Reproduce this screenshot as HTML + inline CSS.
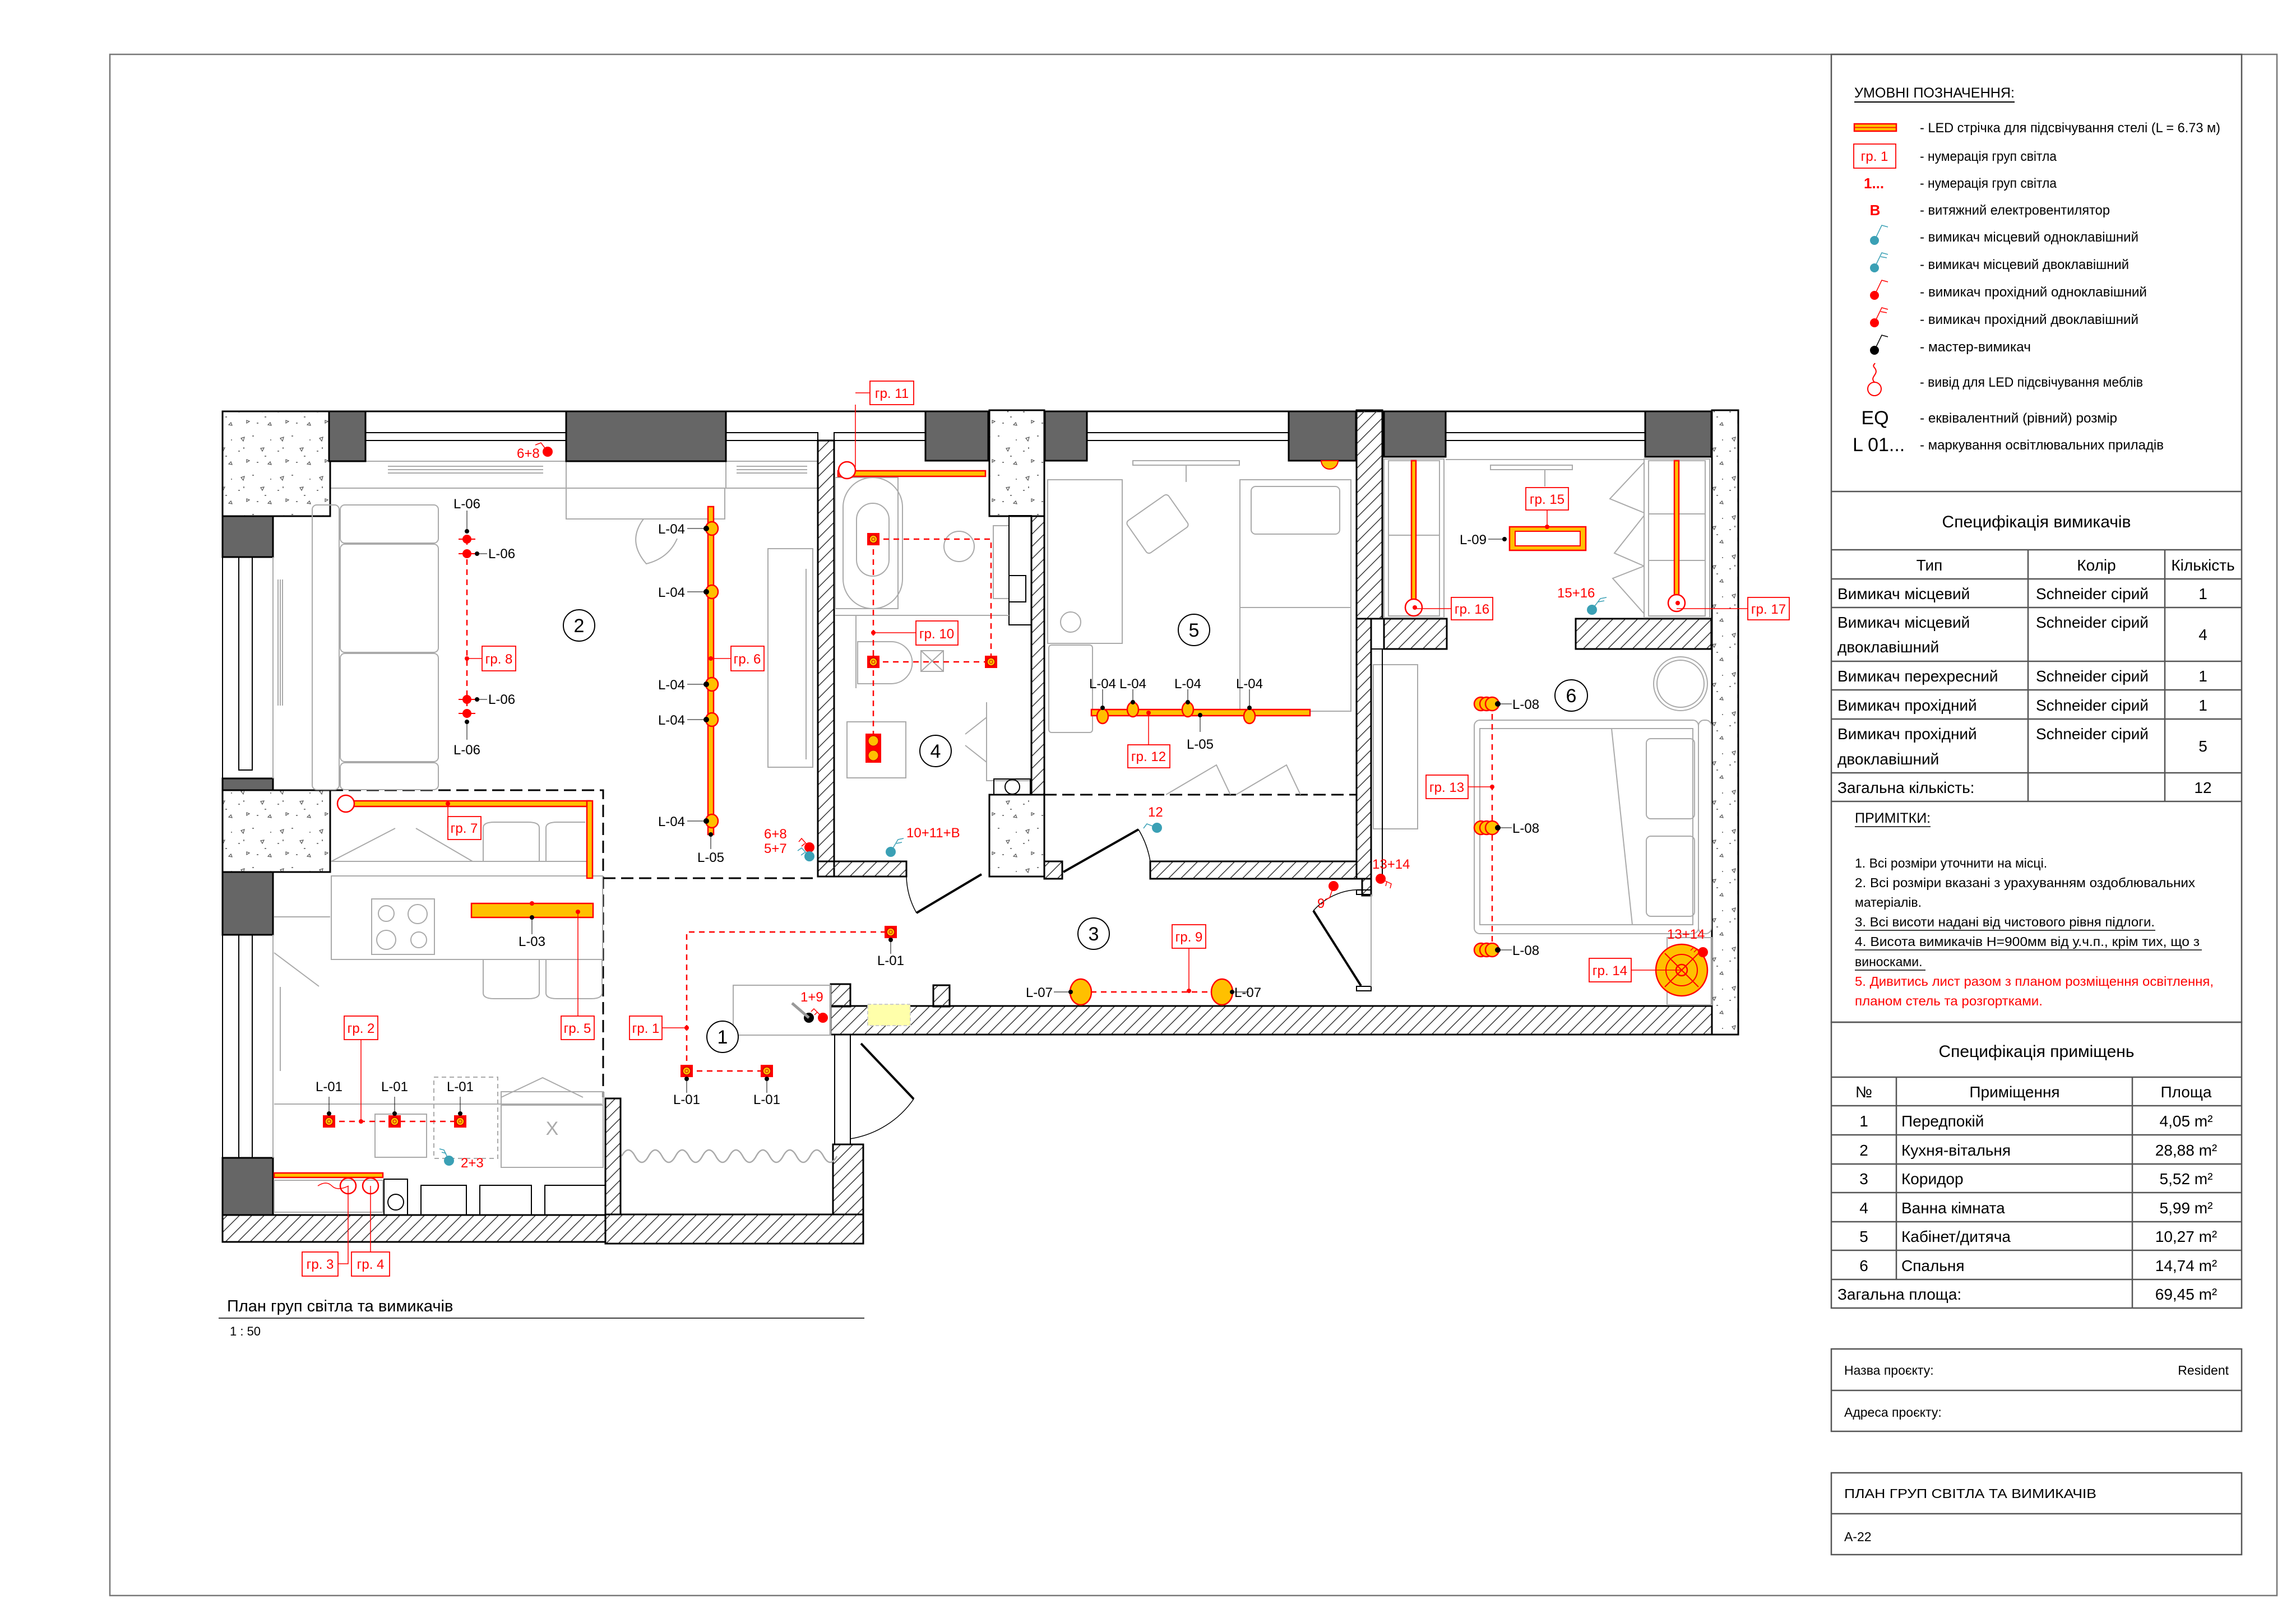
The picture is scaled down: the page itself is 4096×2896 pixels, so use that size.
<!DOCTYPE html>
<html><head><meta charset="utf-8"><style>
html,body{margin:0;padding:0;background:#fff}
svg{display:block}
text{font-family:"Liberation Sans","DejaVu Sans",sans-serif}
.k{fill:#000}.r{fill:#f00}
.w{fill:url(#hatch);stroke:#000;stroke-width:3}
.c{fill:url(#conc);stroke:#000;stroke-width:3}
.d{fill:#666;stroke:#000;stroke-width:3}
.f{fill:none;stroke:#aaa;stroke-width:2}
.ln{fill:none;stroke:#000;stroke-width:2}
.rd{fill:none;stroke:#f00;stroke-width:2.5;stroke-dasharray:10 8}
.rl{fill:none;stroke:#f00;stroke-width:1.5}
.bx{fill:#fff;stroke:#f00;stroke-width:1.8}
.st{fill:#ffc000;stroke:#f00;stroke-width:2.5}
.kd{fill:none;stroke:#000;stroke-width:3;stroke-dasharray:22 10}
</style></head><body>
<svg width="4096" height="2896" viewBox="0 0 4096 2896" xmlns="http://www.w3.org/2000/svg">
<defs>
<pattern id="hatch" patternUnits="userSpaceOnUse" width="22" height="22"><path d="M0 22 L22 0 M-5 5 L5 -5 M17 27 L27 17" stroke="#333" stroke-width="1.5"/></pattern>
<pattern id="conc" patternUnits="userSpaceOnUse" width="70" height="70"><rect width="70" height="70" fill="#fff"/><path d="M10 12 l6 -2 l-2 7z M45 30 l6 -1 l-3 6z M20 50 l5 2 l-5 3z M58 58 l4 -4 l2 5z" fill="none" stroke="#555" stroke-width="1.2"/><path d="M30 8h3 M5 35h3 M38 55h3 M62 15h2 M52 44h3 M15 28v3" stroke="#555" stroke-width="1.5"/></pattern>
<g id="l01"><rect x="-11" y="-11" width="22" height="22" fill="#f00"/><circle r="7" fill="#ffc000" stroke="#c00" stroke-width="1.5"/><circle r="3" fill="none" stroke="#c00" stroke-width="1"/></g>
<g id="l04"><ellipse cx="6" rx="11" ry="12" fill="#ffc000" stroke="#f00" stroke-width="2.5"/><circle cx="-4" r="5" fill="#000"/></g>
<g id="l08"><circle cx="-18" r="12" fill="#ffc000" stroke="#f00" stroke-width="2.5"/><circle cx="-8" r="12" fill="#ffc000" stroke="#f00" stroke-width="2.5"/><circle cx="2" r="12" fill="#ffc000" stroke="#f00" stroke-width="2.5"/><circle cx="12" r="5" fill="#000"/></g>
</defs>
<rect width="4096" height="2896" fill="#fff"/>
<!-- frame -->
<rect x="196" y="97" width="3866" height="2750" fill="none" stroke="#777" stroke-width="2.5"/>

<!-- ============ RIGHT PANEL ============ -->
<g stroke="#555" stroke-width="2.5" fill="none">
<rect x="3267" y="97" width="732" height="1727"/>
<line x1="3267" y1="877" x2="3999" y2="877"/>
<line x1="3267" y1="981" x2="3999" y2="981"/>
<line x1="3267" y1="1033" x2="3999" y2="1033"/>
<line x1="3267" y1="1084" x2="3999" y2="1084"/>
<line x1="3267" y1="1180" x2="3999" y2="1180"/>
<line x1="3267" y1="1231" x2="3999" y2="1231"/>
<line x1="3267" y1="1283" x2="3999" y2="1283"/>
<line x1="3267" y1="1379" x2="3999" y2="1379"/>
<line x1="3267" y1="1430" x2="3999" y2="1430"/>
<line x1="3618" y1="981" x2="3618" y2="1430"/>
<line x1="3862" y1="981" x2="3862" y2="1430"/>
<rect x="3267" y="1824" width="732" height="510"/>
<line x1="3267" y1="1922" x2="3999" y2="1922"/>
<line x1="3267" y1="1973" x2="3999" y2="1973"/>
<line x1="3267" y1="2025" x2="3999" y2="2025"/>
<line x1="3267" y1="2077" x2="3999" y2="2077"/>
<line x1="3267" y1="2128" x2="3999" y2="2128"/>
<line x1="3267" y1="2180" x2="3999" y2="2180"/>
<line x1="3267" y1="2231" x2="3999" y2="2231"/>
<line x1="3267" y1="2283" x2="3999" y2="2283"/>
<line x1="3383" y1="1922" x2="3383" y2="2283"/>
<line x1="3804" y1="1922" x2="3804" y2="2334"/>
<rect x="3267" y="2407" width="732" height="147"/>
<line x1="3267" y1="2481" x2="3999" y2="2481"/>
<rect x="3267" y="2628" width="732" height="146"/>
<line x1="3267" y1="2701" x2="3999" y2="2701"/>
</g>
<!-- legend -->
<g font-size="24" fill="#000">
<text x="3308" y="174" font-size="25" textLength="286" lengthAdjust="spacingAndGlyphs">УМОВНІ ПОЗНАЧЕННЯ:</text>
<line x1="3308" y1="182" x2="3594" y2="182" stroke="#000" stroke-width="2"/>
<rect x="3308" y="221" width="75" height="13" fill="#ffc000" stroke="#f00" stroke-width="2.5"/>
<line x1="3308" y1="227.5" x2="3383" y2="227.5" stroke="#f00" stroke-width="1.5"/>
<text x="3425" y="236" textLength="536" lengthAdjust="spacingAndGlyphs">- LED стрічка для підсвічування стелі (L = 6.73 м)</text>
<rect x="3307" y="257" width="75" height="43" fill="none" stroke="#f00" stroke-width="1.8"/>
<text x="3344" y="287" text-anchor="middle" fill="#f00" font-size="24">гр. 1</text>
<text x="3425" y="287" textLength="244" lengthAdjust="spacingAndGlyphs">- нумерація груп світла</text>
<text x="3325" y="336" fill="#f00" font-weight="bold" font-size="26">1...</text>
<text x="3425" y="335" textLength="244" lengthAdjust="spacingAndGlyphs">- нумерація груп світла</text>
<text x="3345" y="384" fill="#f00" font-weight="bold" font-size="26" text-anchor="middle">В</text>
<text x="3425" y="383" textLength="339" lengthAdjust="spacingAndGlyphs">- витяжний електровентилятор</text>
<text x="3425" y="431" textLength="390" lengthAdjust="spacingAndGlyphs">- вимикач місцевий одноклавішний</text>
<text x="3425" y="480" textLength="373" lengthAdjust="spacingAndGlyphs">- вимикач місцевий двоклавішний</text>
<text x="3425" y="529" textLength="405" lengthAdjust="spacingAndGlyphs">- вимикач прохідний одноклавішний</text>
<text x="3425" y="578" textLength="390" lengthAdjust="spacingAndGlyphs">- вимикач прохідний двоклавішний</text>
<text x="3425" y="627" textLength="198" lengthAdjust="spacingAndGlyphs">- мастер-вимикач</text>
<text x="3425" y="690" textLength="398" lengthAdjust="spacingAndGlyphs">- вивід для LED підсвічування меблів</text>
<text x="3345" y="757" text-anchor="middle" font-size="34">EQ</text>
<text x="3425" y="754" textLength="352" lengthAdjust="spacingAndGlyphs">- еквівалентний (рівний) розмір</text>
<text x="3305" y="805" font-size="34">L 01...</text>
<text x="3425" y="802" textLength="435" lengthAdjust="spacingAndGlyphs">- маркування освітлювальних приладів</text>
</g>
<!-- legend switch icons -->
<g stroke-width="1.5" fill="none">
<circle cx="3344" cy="429" r="8" fill="#3aa0b5"/><path d="M3344 429 L3357 402 L3368 405" stroke="#3aa0b5"/>
<circle cx="3344" cy="478" r="8" fill="#3aa0b5"/><path d="M3344 478 L3357 451 L3368 454 M3355 458 L3366 460" stroke="#3aa0b5"/>
<circle cx="3344" cy="527" r="8" fill="#f00"/><path d="M3344 527 L3357 500 L3368 503" stroke="#f00"/>
<circle cx="3344" cy="576" r="8" fill="#f00"/><path d="M3344 576 L3357 549 L3368 552 M3355 556 L3366 558" stroke="#f00"/>
<circle cx="3344" cy="625" r="8" fill="#000"/><path d="M3344 625 L3357 598 L3368 601" stroke="#000"/>
<circle cx="3344" cy="694" r="12" stroke="#f00" stroke-width="2"/><path d="M3344 682 C3334 672 3354 668 3344 656 C3340 652 3344 650 3345 648" stroke="#f00" stroke-width="2"/>
</g>
<!-- switch spec -->
<g font-size="28" fill="#000">
<text x="3633" y="941" text-anchor="middle" font-size="30">Специфікація вимикачів</text>
<text x="3442" y="1018" text-anchor="middle">Тип</text>
<text x="3740" y="1018" text-anchor="middle">Колір</text>
<text x="3930" y="1018" text-anchor="middle">Кількість</text>
<text x="3278" y="1069">Вимикач місцевий</text>
<text x="3632" y="1069">Schneider сірий</text>
<text x="3930" y="1069" text-anchor="middle">1</text>
<text x="3278" y="1120">Вимикач місцевий</text>
<text x="3278" y="1164">двоклавішний</text>
<text x="3632" y="1120">Schneider сірий</text>
<text x="3930" y="1142" text-anchor="middle">4</text>
<text x="3278" y="1216">Вимикач перехресний</text>
<text x="3632" y="1216">Schneider сірий</text>
<text x="3930" y="1216" text-anchor="middle">1</text>
<text x="3278" y="1268">Вимикач прохідний</text>
<text x="3632" y="1268">Schneider сірий</text>
<text x="3930" y="1268" text-anchor="middle">1</text>
<text x="3278" y="1319">Вимикач прохідний</text>
<text x="3278" y="1364">двоклавішний</text>
<text x="3632" y="1319">Schneider сірий</text>
<text x="3930" y="1341" text-anchor="middle">5</text>
<text x="3278" y="1415">Загальна кількість:</text>
<text x="3930" y="1415" text-anchor="middle">12</text>
</g>
<g font-size="23" fill="#000">
<text x="3309" y="1468" font-size="25">ПРИМІТКИ:</text>
<line x1="3309" y1="1475" x2="3444" y2="1475" stroke="#000" stroke-width="1.5"/>
<text x="3309" y="1548">1. Всі розміри уточнити на місці.</text>
<text x="3309" y="1583" textLength="607" lengthAdjust="spacingAndGlyphs">2. Всі розміри вказані з урахуванням оздоблювальних</text>
<text x="3309" y="1618">матеріалів.</text>
<text x="3309" y="1653" textLength="535" lengthAdjust="spacingAndGlyphs">3. Всі висоти надані від чистового рівня підлоги.</text>
<line x1="3309" y1="1660" x2="3845" y2="1660" stroke="#000" stroke-width="1.5"/>
<text x="3309" y="1688" textLength="615" lengthAdjust="spacingAndGlyphs">4. Висота вимикачів Н=900мм від у.ч.п., крім тих, що з</text>
<line x1="3309" y1="1695" x2="3928" y2="1695" stroke="#000" stroke-width="1.5"/>
<text x="3309" y="1724">виносками.</text>
<line x1="3309" y1="1731" x2="3435" y2="1731" stroke="#000" stroke-width="1.5"/>
<text x="3309" y="1759" fill="#f00" textLength="640" lengthAdjust="spacingAndGlyphs">5. Дивитись лист разом з планом розміщення освітлення,</text>
<text x="3309" y="1794" fill="#f00" textLength="335" lengthAdjust="spacingAndGlyphs">планом стель та розгортками.</text>
</g>
<!-- rooms spec -->
<g font-size="28" fill="#000">
<text x="3633" y="1886" text-anchor="middle" font-size="30">Специфікація приміщень</text>
<text x="3325" y="1958" text-anchor="middle">№</text>
<text x="3594" y="1958" text-anchor="middle">Приміщення</text>
<text x="3900" y="1958" text-anchor="middle">Площа</text>
<text x="3325" y="2010" text-anchor="middle">1</text><text x="3392" y="2010">Передпокій</text><text x="3900" y="2010" text-anchor="middle">4,05 m²</text>
<text x="3325" y="2062" text-anchor="middle">2</text><text x="3392" y="2062">Кухня-вітальня</text><text x="3900" y="2062" text-anchor="middle">28,88 m²</text>
<text x="3325" y="2113" text-anchor="middle">3</text><text x="3392" y="2113">Коридор</text><text x="3900" y="2113" text-anchor="middle">5,52 m²</text>
<text x="3325" y="2165" text-anchor="middle">4</text><text x="3392" y="2165">Ванна кімната</text><text x="3900" y="2165" text-anchor="middle">5,99 m²</text>
<text x="3325" y="2216" text-anchor="middle">5</text><text x="3392" y="2216">Кабінет/дитяча</text><text x="3900" y="2216" text-anchor="middle">10,27 m²</text>
<text x="3325" y="2268" text-anchor="middle">6</text><text x="3392" y="2268">Спальня</text><text x="3900" y="2268" text-anchor="middle">14,74 m²</text>
<text x="3278" y="2319">Загальна площа:</text><text x="3900" y="2319" text-anchor="middle">69,45 m²</text>
</g>
<g font-size="23" fill="#000">
<text x="3290" y="2453">Назва проєкту:</text>
<text x="3976" y="2453" text-anchor="end">Resident</text>
<text x="3290" y="2528">Адреса проєкту:</text>
<text x="3290" y="2673" textLength="450" lengthAdjust="spacingAndGlyphs">ПЛАН ГРУП СВІТЛА ТА ВИМИКАЧІВ</text>
<text x="3290" y="2750">А-22</text>
</g>

<!-- ============ PLAN ============ -->
<!-- title -->
<text x="405" y="2340" font-size="29" fill="#000">План груп світла та вимикачів</text>
<line x1="390" y1="2352" x2="1542" y2="2352" stroke="#000" stroke-width="1.5"/>
<text x="410" y="2383" font-size="22" fill="#000">1 : 50</text>

<!-- exterior top line -->
<line x1="397" y1="734" x2="3101" y2="734" stroke="#000" stroke-width="3"/>
<!-- windows top -->
<g class="ln" stroke-width="2">
<rect x="652" y="772" width="358" height="14"/><rect x="1295" y="772" width="164" height="14"/>
<rect x="1488" y="772" width="163" height="14"/><rect x="1939" y="772" width="360" height="14"/>
<rect x="2579" y="772" width="356" height="14"/>
</g>
<g class="f">
<rect x="587" y="823" width="423" height="48"/><rect x="1010" y="823" width="285" height="48"/><rect x="1295" y="823" width="164" height="48"/>
<rect x="1010" y="871" width="283" height="55"/>
<path d="M692 832h277M692 838h277M692 844h277M1314 832h126M1314 838h126M1314 844h126"/>
</g>
<!-- concrete blocks -->
<rect class="c" x="397" y="734" width="192" height="187"/>
<rect class="c" x="397" y="1410" width="192" height="146"/>
<rect class="c" x="1765" y="732" width="98" height="189"/>
<rect class="c" x="1765" y="1418" width="98" height="146"/>
<rect class="c" x="3054" y="732" width="47" height="1114"/>
<!-- dark columns -->
<rect class="d" x="397" y="921" width="90" height="73"/>
<rect class="d" x="397" y="1389" width="90" height="21"/>
<rect class="d" x="397" y="1556" width="90" height="112"/>
<rect class="d" x="397" y="2066" width="90" height="102"/>
<rect class="d" x="587" y="734" width="65" height="89"/>
<rect class="d" x="1010" y="734" width="285" height="89"/>
<rect class="d" x="1651" y="734" width="112" height="88"/>
<rect class="d" x="1864" y="734" width="75" height="88"/>
<rect class="d" x="2299" y="734" width="120" height="88"/>
<rect class="d" x="2469" y="734" width="110" height="81"/>
<rect class="d" x="2935" y="734" width="118" height="81"/>
<!-- left windows -->
<g class="ln" stroke-width="2">
<line x1="397" y1="994" x2="397" y2="1389"/><line x1="397" y1="1668" x2="397" y2="2066"/>
<rect x="426" y="994" width="24" height="380"/><rect x="426" y="1668" width="24" height="398"/>
<line x1="487" y1="994" x2="487" y2="1389" stroke="#aaa"/><line x1="487" y1="1668" x2="487" y2="2066" stroke="#aaa"/>
</g>
<!-- walls hatched -->
<rect class="w" x="1459" y="786" width="29" height="778"/>
<rect class="w" x="1459" y="1537" width="158" height="27"/>
<rect class="w" x="1840" y="921" width="23" height="497"/>
<rect class="w" x="1863" y="1537" width="32" height="31"/>
<rect class="w" x="2052" y="1537" width="368" height="31"/>
<rect class="w" x="2420" y="732" width="46" height="372"/>
<rect class="w" x="2420" y="1104" width="26" height="464"/>
<rect class="w" x="2469" y="1104" width="112" height="54"/>
<rect class="w" x="2811" y="1104" width="242" height="54"/>
<rect class="w" x="1482" y="1795" width="1572" height="51"/>
<rect class="w" x="1482" y="1756" width="35" height="40"/>
<rect class="w" x="1665" y="1758" width="29" height="38"/>
<rect class="w" x="2430" y="1568" width="16" height="30"/>
<rect class="w" x="397" y="2168" width="683" height="48"/>
<rect class="w" x="1080" y="2167" width="460" height="52"/>
<rect class="w" x="1080" y="1960" width="27" height="207"/>
<rect class="w" x="1486" y="2042" width="54" height="125"/>
<!-- door frame lines etc -->
<g class="ln">
<rect x="1489" y="1846" width="28" height="196"/>
<line x1="1536" y1="1862" x2="1630" y2="1961" stroke-width="4"/>
<path d="M1630 1961 A170 170 0 0 1 1517 2032" stroke-width="1.5"/>
<line x1="1635" y1="1629" x2="1751" y2="1560" stroke-width="4"/>
<path d="M1617 1564 A140 140 0 0 0 1635 1629" stroke-width="1.5"/>
<line x1="1897" y1="1556" x2="2031" y2="1480" stroke-width="4"/>
<path d="M2031 1480 A160 160 0 0 1 2052 1537" stroke-width="1.5"/>
<line x1="2343" y1="1625" x2="2428" y2="1759" stroke-width="4"/>
<path d="M2343 1625 A110 110 0 0 1 2435 1588" stroke-width="1.5"/>
<rect x="2420" y="1588" width="26" height="8"/><rect x="2420" y="1760" width="26" height="8"/>
<line x1="2446" y1="1596" x2="2446" y2="1760" stroke="#aaa"/>
<rect x="1396" y="2115" width="0" height="0"/>
</g>
<!-- dashed boundaries -->
<path class="kd" d="M590 1410 H1076 V1958"/>
<path class="kd" d="M1076 1567 H1459"/>
<path class="kd" d="M1863 1418 H2420"/>
<!-- curtain -->
<path d="M1109 2063 q12 -22 24 0 t24 0 t24 0 t24 0 t24 0 t24 0 t24 0 t24 0 t24 0 t24 0 t24 0 t24 0 t24 0 t24 0 t24 0 t24 0" fill="none" stroke="#aaa" stroke-width="2.5"/>

<!-- furniture -->
<g class="f">
<rect x="557" y="901" width="48" height="508" rx="8"/>
<rect x="607" y="901" width="175" height="68" rx="8"/>
<rect x="607" y="971" width="175" height="193" rx="8"/>
<rect x="607" y="1166" width="175" height="193" rx="8"/>
<rect x="607" y="1361" width="175" height="48" rx="8"/>
<path d="M496 1034v225M500 1034v225M504 1034v225"/>
<rect x="1370" y="979" width="80" height="390"/>
<path d="M1438 1015v340"/>
<path d="M1148 926 q-30 40 5 80 q40 -10 55 -45"/>
<!-- kitchen -->
<rect x="591" y="1563" width="484" height="149"/>
<rect x="663" y="1604" width="112" height="99"/>
<circle cx="689" cy="1630" r="14"/><circle cx="745" cy="1631" r="17"/><circle cx="689" cy="1677" r="17"/><circle cx="747" cy="1677" r="14"/>
<path d="M591 1537 L705 1478 M742 1478 L843 1537 M591 1537 H1050"/>
<path d="M862 1537 v-60 q0 -10 20 -10 h60 q20 0 20 10 v60 M974 1537 v-60 q0 -10 20 -10 h50"/>
<path d="M862 1712 v60 q0 10 20 10 h60 q20 0 20 -10 v-60 M974 1712 v60 q0 10 20 10 h60 q20 0 20 -10 v-60"/>
<path d="M489 1636 h100 M489 1700 l80 60 M500 1761 v150 M489 1970 h585"/>
<rect x="669" y="1988" width="92" height="77"/>
<rect x="774" y="1922" width="114" height="145" stroke-dasharray="8 6"/>
<rect x="894" y="1948" width="182" height="135"/>
<path d="M894 1958 L968 1923 L1040 1958 M894 1972 H1076"/>
<text x="985" y="2025" font-size="34" fill="#aaa" stroke="none" text-anchor="middle">X</text>
<rect x="489" y="2106" width="194" height="57"/>
<rect x="1308" y="1758" width="174" height="89"/>
<rect x="1548" y="1792" width="76" height="38" fill="#ffffaa" stroke="#ccc" stroke-dasharray="6 4"/>
<rect x="685" y="2104" width="42" height="64" stroke="#000"/><circle cx="706" cy="2145" r="14" stroke="#000"/>
<rect x="751" y="2115" width="81" height="53" stroke="#000"/><rect x="856" y="2115" width="92" height="53" stroke="#000"/><rect x="972" y="2115" width="108" height="53" stroke="#000"/>
<!-- bathroom -->
<rect x="1490" y="852" width="112" height="234"/>
<rect x="1504" y="852" width="106" height="234" rx="53"/>
<rect x="1528" y="898" width="58" height="130" rx="29"/>
<circle cx="1711" cy="975" r="27"/>
<rect x="1772" y="938" width="28" height="130"/>
<rect x="1800" y="920" width="40" height="195" stroke="#000"/>
<rect x="1800" y="1027" width="30" height="47" stroke="#000"/>
<path d="M1490 1098 H1800 M1527 1098 v130"/>
<path d="M1530 1145 h60 a30 30 0 0 1 0 75 h-60z"/>
<rect x="1643" y="1161" width="40" height="37"/>
<path d="M1643 1161 l40 37 M1683 1161 l-40 37"/>
<rect x="1511" y="1288" width="105" height="100"/>
<path d="M1760 1253 v140 h78 M1722 1310 l38 -30 M1722 1330 l38 30"/>
<rect x="1773" y="1390" width="65" height="28" stroke="#000"/><circle cx="1806" cy="1404" r="13" stroke="#000"/>
<!-- room 5 -->
<rect x="1869" y="856" width="133" height="292"/>
<rect x="1871" y="1151" width="78" height="156" rx="5"/>
<rect x="2212" y="856" width="198" height="413"/>
<rect x="2232" y="868" width="158" height="85" rx="8"/>
<path d="M2212 1084 H2410"/>
<rect x="2020" y="900" width="90" height="70" transform="rotate(-35 2065 935)" rx="6"/>
<circle cx="1910" cy="1110" r="18"/>
<path d="M2021 822 h190 v8 h-190z M2116 830 v30"/>
<path d="M2080 1418 L2170 1365 L2195 1418 M2205 1418 L2295 1365 L2320 1418"/>
<!-- room 6 -->
<rect x="2469" y="819" width="107" height="283"/><rect x="2477" y="822" width="91" height="277"/>
<rect x="2933" y="819" width="117" height="283"/><rect x="2941" y="822" width="101" height="277"/>
<path d="M2941 917h101M2941 1000h101M2477 955h91"/>
<path d="M2579 820 H2933 M2659 830 h146 v8 h-146z M2756 838 v30"/>
<path d="M2933 825 L2872 890 L2933 915 M2933 920 L2880 987 L2933 1010 M2933 1010 L2877 1032 L2933 1095"/>
<rect x="2450" y="1186" width="79" height="293"/>
<circle cx="2998" cy="1220" r="48"/><circle cx="2998" cy="1220" r="42"/>
<rect x="2630" y="1285" width="400" height="381" rx="10"/>
<rect x="2640" y="1300" width="380" height="350"/>
<rect x="3030" y="1285" width="23" height="381" rx="10"/>
<rect x="2937" y="1318" width="86" height="143" rx="8"/><rect x="2937" y="1492" width="86" height="143" rx="8"/>
<path d="M2875 1300 L2912 1650"/>
<rect x="2974" y="1673" width="80" height="120"/>
</g>
<!-- extra wall lines -->
<g class="ln" stroke-width="3">
<path d="M1488 823 V1537"/>
<path d="M2466 1158 V1568 M2446 1158 H2469"/>
<path d="M2581 1104 V1158 M2811 1104 V1158"/>
<path d="M397 1409 V1556"/>
</g>

<!-- ========= LIGHTING (red) ========= -->
<!-- strips -->
<rect class="st" x="1263" y="904" width="10" height="585"/>
<rect class="st" x="610" y="1429" width="443" height="10"/>
<rect class="st" x="1047" y="1429" width="10" height="138"/>
<circle cx="617" cy="1434" r="15" fill="#fff" stroke="#f00" stroke-width="2.5"/>
<rect class="st" x="1495" y="840" width="263" height="10"/>
<circle cx="1511" cy="839" r="15" fill="#fff" stroke="#f00" stroke-width="2.5"/>
<rect class="st" x="1947" y="1266" width="390" height="11"/>
<rect class="st" x="841" y="1612" width="217" height="25"/>
<rect class="st" x="489" y="2093" width="194" height="8"/>
<circle cx="621" cy="2116" r="14" fill="none" stroke="#f00" stroke-width="2.5"/>
<circle cx="661" cy="2116" r="14" fill="none" stroke="#f00" stroke-width="2.5"/>
<path d="M567 2116 q15 -10 25 0 t30 0" fill="none" stroke="#f00" stroke-width="1.5"/>
<rect class="st" x="2518" y="822" width="8" height="253"/>
<rect class="st" x="2987" y="822" width="8" height="253"/>
<circle cx="2522" cy="1084" r="15" fill="#fff" stroke="#f00" stroke-width="2.5"/>
<circle cx="2991" cy="1076" r="15" fill="#fff" stroke="#f00" stroke-width="2.5"/>
<rect class="st" x="2693" y="940" width="136" height="42"/>
<rect x="2703" y="948" width="116" height="26" fill="#fff" stroke="#f00" stroke-width="2"/>
<!-- gr14 -->
<circle cx="3000" cy="1731" r="46" fill="#ffc000" stroke="#f00" stroke-width="2.5"/>
<circle cx="3000" cy="1731" r="28" fill="none" stroke="#f00" stroke-width="2"/>
<circle cx="3000" cy="1731" r="10" fill="none" stroke="#f00" stroke-width="2.5"/>
<path d="M2970 1701 l60 60 M3030 1701 l-60 60" stroke="#f00" stroke-width="2"/>
<!-- misc top -->
<path d="M2357 822 a15 15 0 0 0 30 0z" fill="#ffc000" stroke="#f00" stroke-width="2"/>

<!-- dashed red lines -->
<path class="rd" d="M833 962 V1273"/>
<path class="rd" d="M1558 962 H1768 V1181 H1558 M1558 962 V1334"/>
<path class="rd" d="M1225 1911 V1663 H1589 M1225 1911 H1368"/>
<path class="rd" d="M1928 1770 H2180"/>
<path class="rd" d="M587 2001 H821"/>
<path class="rd" d="M2662 1256 V1695"/>
<!-- L-01 fixtures -->
<use href="#l01" x="1558" y="962"/><use href="#l01" x="1558" y="1181"/><use href="#l01" x="1768" y="1181"/>
<rect x="1544" y="1309" width="28" height="52" fill="#f00"/>
<circle cx="1558" cy="1322" r="9" fill="#ffc000" stroke="#c00"/><circle cx="1558" cy="1348" r="9" fill="#ffc000" stroke="#c00"/>
<use href="#l01" x="1589" y="1663"/><use href="#l01" x="1225" y="1911"/><use href="#l01" x="1368" y="1911"/>
<use href="#l01" x="587" y="2001"/><use href="#l01" x="704" y="2001"/><use href="#l01" x="821" y="2001"/>
<!-- L-06 -->
<g fill="#f00"><circle cx="833" cy="962" r="8"/><circle cx="833" cy="988" r="8"/><circle cx="833" cy="1248" r="8"/><circle cx="833" cy="1273" r="8"/></g>
<path d="M818 962h30M818 988h30M818 1248h30M818 1273h30" stroke="#f00" stroke-width="2"/>
<g fill="#000"><circle cx="833" cy="948" r="4"/><circle cx="851" cy="988" r="4"/><circle cx="851" cy="1248" r="4"/><circle cx="833" cy="1288" r="4"/><circle cx="1268" cy="1489" r="4"/></g>
<path d="M833 911V948M851 988H869M851 1248H869M833 1288V1320M1268 1489V1515" stroke="#000" stroke-width="1"/>
<!-- L-04 -->
<use href="#l04" x="1264" y="943"/><use href="#l04" x="1264" y="1056"/><use href="#l04" x="1264" y="1221"/><use href="#l04" x="1264" y="1284"/><use href="#l04" x="1264" y="1465"/>
<path d="M1226 943h33M1226 1056h33M1226 1221h33M1226 1284h33M1226 1465h33" stroke="#000" stroke-width="1"/>
<g fill="#ffc000" stroke="#f00" stroke-width="2.5">
<ellipse cx="1967" cy="1278" rx="10" ry="13"/><ellipse cx="2021" cy="1266" rx="10" ry="13"/><ellipse cx="2119" cy="1266" rx="10" ry="13"/><ellipse cx="2229" cy="1278" rx="10" ry="13"/>
<ellipse cx="1928" cy="1770" rx="19" ry="23"/><ellipse cx="2180" cy="1770" rx="19" ry="23"/>
</g>
<g fill="#000"><circle cx="1967" cy="1263" r="4"/><circle cx="2021" cy="1253" r="4"/><circle cx="2119" cy="1253" r="4"/><circle cx="2229" cy="1263" r="4"/><circle cx="2141" cy="1276" r="4"/><circle cx="1910" cy="1770" r="4"/><circle cx="2198" cy="1770" r="4"/><circle cx="949" cy="1637" r="4"/><circle cx="2684" cy="962" r="4"/></g>
<path d="M1967 1230v33M2021 1230v23M2119 1230v23M2229 1230v33M2141 1276v30M1880 1770h30M2198 1770h30M949 1637v30M2655 962h29" stroke="#000" stroke-width="1"/>
<g fill="#000"><circle cx="1589" cy="1677" r="4"/><circle cx="1225" cy="1925" r="4"/><circle cx="1368" cy="1925" r="4"/><circle cx="587" cy="1987" r="4"/><circle cx="704" cy="1987" r="4"/><circle cx="821" cy="1987" r="4"/></g>
<path d="M1589 1677v25M1225 1925v25M1368 1925v25M587 1957v30M704 1957v30M821 1957v30" stroke="#000" stroke-width="1"/>
<use href="#l08" x="2660" y="1256"/><use href="#l08" x="2660" y="1477"/><use href="#l08" x="2660" y="1695"/>
<path d="M2672 1256h25M2672 1477h25M2672 1695h25" stroke="#000" stroke-width="1"/>

<!-- group label boxes + leaders -->
<g class="rl">
<path d="M860 1175H833M1304 1175H1268M799 1477V1434M1526 722V833M1552 701H1526M1634 1129H1558M2012 1350H2049V1272M2121 1692V1768M2760 910V940M2589 1086H2522M3118 1086H2991M2544 1404H2662M2910 1731H3000M1001 1834H1031V1627M644 1855V2001M1181 1834H1225M603 2255H621V2116M661 2234V2116"/>
</g>
<g class="bx">
<rect x="860" y="1153" width="60" height="44"/><rect x="1304" y="1153" width="59" height="44"/>
<rect x="799" y="1457" width="59" height="41"/><rect x="1552" y="680" width="78" height="42"/>
<rect x="1634" y="1108" width="75" height="43"/><rect x="2012" y="1329" width="75" height="41"/>
<rect x="2091" y="1650" width="60" height="42"/><rect x="2722" y="870" width="76" height="40"/>
<rect x="2589" y="1066" width="74" height="40"/><rect x="3118" y="1066" width="74" height="40"/>
<rect x="2544" y="1383" width="75" height="42"/><rect x="2835" y="1710" width="75" height="42"/>
<rect x="1001" y="1813" width="59" height="42"/><rect x="614" y="1813" width="60" height="42"/>
<rect x="1123" y="1813" width="58" height="42"/><rect x="539" y="2234" width="64" height="43"/><rect x="627" y="2234" width="68" height="43"/>
</g>
<g fill="#f00" font-size="24" text-anchor="middle">
<text x="890" y="1184">гр. 8</text><text x="1333" y="1184">гр. 6</text><text x="828" y="1486">гр. 7</text>
<text x="1591" y="710">гр. 11</text><text x="1671" y="1139">гр. 10</text><text x="2049" y="1358">гр. 12</text>
<text x="2121" y="1680">гр. 9</text><text x="2760" y="899">гр. 15</text><text x="2626" y="1095">гр. 16</text>
<text x="3155" y="1095">гр. 17</text><text x="2581" y="1413">гр. 13</text><text x="2872" y="1740">гр. 14</text>
<text x="1030" y="1843">гр. 5</text><text x="644" y="1843">гр. 2</text><text x="1152" y="1843">гр. 1</text>
<text x="571" y="2264">гр. 3</text><text x="661" y="2264">гр. 4</text>
</g>
<g fill="#f00"><circle cx="833" cy="1175" r="4"/><circle cx="1268" cy="1175" r="4"/><circle cx="799" cy="1434" r="4"/><circle cx="1558" cy="1129" r="4"/><circle cx="2049" cy="1272" r="4"/><circle cx="2121" cy="1768" r="4"/><circle cx="2760" cy="940" r="4"/><circle cx="2662" cy="1404" r="4"/><circle cx="1031" cy="1627" r="4"/><circle cx="949" cy="1612" r="4"/><circle cx="644" cy="2001" r="4"/><circle cx="1225" cy="1834" r="4"/><circle cx="2524" cy="1084" r="4"/><circle cx="2993" cy="1076" r="4"/></g>

<!-- black labels -->
<g font-size="24" fill="#000">
<text x="833" y="907" text-anchor="middle">L-06</text><text x="871" y="996">L-06</text>
<text x="871" y="1256">L-06</text><text x="833" y="1346" text-anchor="middle">L-06</text>
<text x="1222" y="952" text-anchor="end">L-04</text><text x="1222" y="1065" text-anchor="end">L-04</text>
<text x="1222" y="1230" text-anchor="end">L-04</text><text x="1222" y="1293" text-anchor="end">L-04</text>
<text x="1222" y="1474" text-anchor="end">L-04</text><text x="1268" y="1538" text-anchor="middle">L-05</text>
<text x="1967" y="1228" text-anchor="middle">L-04</text><text x="2021" y="1228" text-anchor="middle">L-04</text>
<text x="2119" y="1228" text-anchor="middle">L-04</text><text x="2229" y="1228" text-anchor="middle">L-04</text>
<text x="2141" y="1336" text-anchor="middle">L-05</text>
<text x="1878" y="1779" text-anchor="end">L-07</text><text x="2202" y="1779">L-07</text>
<text x="1589" y="1722" text-anchor="middle">L-01</text><text x="1225" y="1970" text-anchor="middle">L-01</text><text x="1368" y="1970" text-anchor="middle">L-01</text>
<text x="587" y="1947" text-anchor="middle">L-01</text><text x="704" y="1947" text-anchor="middle">L-01</text><text x="821" y="1947" text-anchor="middle">L-01</text>
<text x="949" y="1688" text-anchor="middle">L-03</text>
<text x="2652" y="971" text-anchor="end">L-09</text>
<text x="2698" y="1265">L-08</text><text x="2698" y="1486">L-08</text><text x="2698" y="1704">L-08</text>
</g>
<!-- room circles -->
<g fill="#fff" stroke="#000" stroke-width="2">
<circle cx="1289" cy="1850" r="28"/><circle cx="1033" cy="1116" r="28"/><circle cx="1951" cy="1666" r="28"/>
<circle cx="1669" cy="1340" r="28"/><circle cx="2130" cy="1124" r="28"/><ellipse cx="2803" cy="1241" rx="29" ry="28"/>
</g>
<g font-size="34" fill="#000" text-anchor="middle">
<text x="1289" y="1862">1</text><text x="1033" y="1128">2</text><text x="1951" y="1678">3</text>
<text x="1669" y="1352">4</text><text x="2130" y="1136">5</text><text x="2803" y="1253">6</text>
</g>
<!-- switches -->
<g stroke-width="1.5" fill="none">
<circle cx="977" cy="806" r="9" fill="#f00"/><path d="M977 806 L965 790 L955 794" stroke="#f00"/>
<circle cx="1444" cy="1512" r="9" fill="#f00"/><path d="M1444 1512 L1430 1496 L1425 1502 M1436 1505 L1430 1510" stroke="#f00"/>
<circle cx="1444" cy="1528" r="9" fill="#3aa0b5"/><path d="M1444 1528 L1430 1513 L1423 1518 M1436 1521 L1429 1526" stroke="#3aa0b5"/>
<circle cx="1589" cy="1520" r="9" fill="#3aa0b5"/><path d="M1589 1520 L1602 1498 L1612 1496 M1599 1505 L1609 1503" stroke="#3aa0b5"/>
<circle cx="2064" cy="1477" r="9" fill="#3aa0b5"/><path d="M2064 1477 L2046 1470 L2040 1478" stroke="#3aa0b5"/>
<circle cx="2379" cy="1581" r="9" fill="#f00"/><path d="M2379 1581 L2372 1602 L2364 1605" stroke="#f00"/>
<circle cx="2463" cy="1568" r="9" fill="#f00"/><path d="M2463 1568 L2482 1577 L2480 1585 M2474 1573 L2472 1581" stroke="#f00"/>
<circle cx="2840" cy="1088" r="9" fill="#3aa0b5"/><path d="M2840 1088 L2855 1068 L2866 1066 M2851 1074 L2862 1072" stroke="#3aa0b5"/>
<circle cx="3038" cy="1699" r="9" fill="#f00"/><path d="M3038 1699 L3022 1690 L3016 1696 M3028 1693 L3022 1699" stroke="#f00"/>
<circle cx="801" cy="2071" r="9" fill="#3aa0b5"/><path d="M801 2071 L792 2052 L784 2050 M796 2058 L788 2056" stroke="#3aa0b5"/>
<circle cx="1468" cy="1816" r="9" fill="#f00"/><path d="M1468 1816 L1452 1800 L1447 1805 M1458 1806 L1453 1811" stroke="#f00"/>
<circle cx="1443" cy="1816" r="9" fill="#000"/><path d="M1443 1816 L1413 1790" stroke="#999" stroke-width="5"/>
</g>
<g fill="#f00" font-size="24">
<text x="922" y="817">6+8</text>
<text x="1363" y="1496">6+8</text><text x="1363" y="1522">5+7</text>
<text x="1617" y="1494">10+11+B</text>
<text x="2048" y="1457">12</text>
<text x="2350" y="1620">9</text>
<text x="2448" y="1550">13+14</text>
<text x="2778" y="1066">15+16</text>
<text x="2974" y="1675">13+14</text>
<text x="822" y="2083">2+3</text>
<text x="1428" y="1787">1+9</text>
</g>
</svg>
</body></html>
